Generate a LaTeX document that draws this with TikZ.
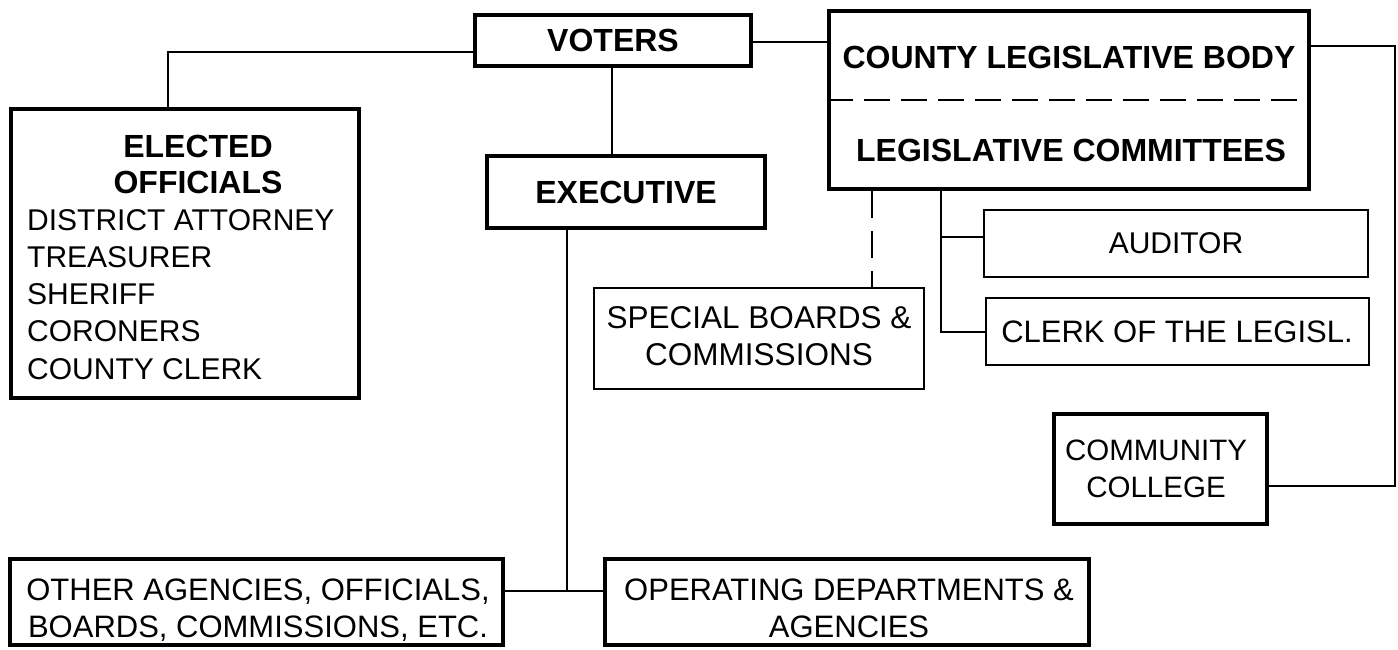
\documentclass[tikz,border=0pt]{standalone}
\usepackage{fontspec}
\setmainfont{Liberation Sans}
\begin{document}
\begin{tikzpicture}[x=1pt,y=-1pt,
  thickbox/.style={draw, line width=4pt, inner sep=0pt, align=center},
  thinbox/.style={draw, line width=2pt, inner sep=0pt, align=center},
  conn/.style={line width=2pt},
  lbl/.style={anchor=base, align=center, inner sep=0pt},
  reg/.style={font=\fontsize{#1}{37}\selectfont},
  reg/.default=31,
  bld/.style={font=\fontsize{32}{36}\selectfont\bfseries}]
\useasboundingbox (0,0) rectangle (1398,649);
% boxes
\node[thickbox, minimum width=348pt, minimum height=289pt] (elected) at (185,253.5) {};
\node[bld, lbl] (electedtitle) at (198,193) {ELECTED\\OFFICIALS};
\node[lbl, anchor=base west, align=left, font=\fontsize{30}{37.25}\selectfont] (electedlist) at (27,379) {DISTRICT ATTORNEY\\TREASURER\\SHERIFF\\CORONERS\\COUNTY CLERK};
\node[thickbox, bld, minimum width=276pt, minimum height=51pt] (voters) at (613,40.5) {VOTERS};
\node[thickbox, bld, minimum width=278pt, minimum height=72pt] (exec) at (626,192) {EXECUTIVE};
\node[thickbox, minimum width=480pt, minimum height=178pt] (county) at (1069,100) {};
\node[bld, lbl] (countytitle) at (1069,68) {COUNTY LEGISLATIVE BODY};
\node[bld, lbl] (committees) at (1071,161) {LEGISLATIVE COMMITTEES};
\node[thinbox, reg=30, minimum width=384pt, minimum height=67pt] (auditor) at (1176,243) {AUDITOR};
\node[thinbox, reg=31, minimum width=383pt, minimum height=67pt] (clerk) at (1177,331.5) {CLERK OF THE LEGISL.};
\node[thinbox, minimum width=330pt, minimum height=101pt] (special) at (759,338) {};
\node[lbl, reg=31.5] (specialtext) at (759,365) {SPECIAL BOARDS \&\\COMMISSIONS};
\node[thickbox, minimum width=213pt, minimum height=110pt] (community) at (1160.5,469) {};
\node[lbl, reg=29.5] (communitytext) at (1156,497) {COMMUNITY\\COLLEGE};
\node[thickbox, minimum width=493pt, minimum height=86pt] (other) at (256.5,602) {};
\node[lbl, reg=31] (othertext) at (258,637) {OTHER AGENCIES, OFFICIALS,\\BOARDS, COMMISSIONS, ETC.};
\node[thickbox, minimum width=484pt, minimum height=86pt] (operating) at (847,602) {};
\node[lbl, reg=31] (operatingtext) at (849,637) {OPERATING DEPARTMENTS \&\\AGENCIES};
% dashed divider inside county box
\draw[line width=2pt, dash pattern=on 26pt off 11pt] (county.west) -- (county.east);
% connectors
\draw[conn] ([yshift=-11.5pt]voters.west) -| ([xshift=-17pt]elected.north);
\draw[conn] ([yshift=-1.5pt]voters.east) -- ([yshift=-1.5pt]voters.east -| county.west);
\draw[conn] ([xshift=-1pt]voters.south) -- ([xshift=-1pt]voters.south |- exec.north);
\coordinate (rtop) at (1395,46);
\draw[conn] ([yshift=54pt]county.east) -- (rtop) |- ([yshift=-17pt]community.east);
\draw[conn, dash pattern=on 27pt off 13pt] ([xshift=-197pt]county.south) -- ([xshift=-197pt]county.south |- special.north);
\coordinate (cstem) at ([xshift=-128pt]county.south);
\coordinate (audin) at ([yshift=6pt]auditor.west);
\draw[conn] (cstem) |- (clerk.west);
\draw[conn] (cstem |- audin) -- (audin);
\coordinate (j) at (567,591);
\draw[conn] (exec.south -| j) -- (j);
\draw[conn] (j -| other.east) -- (j -| operating.west);
\end{tikzpicture}
\end{document}
